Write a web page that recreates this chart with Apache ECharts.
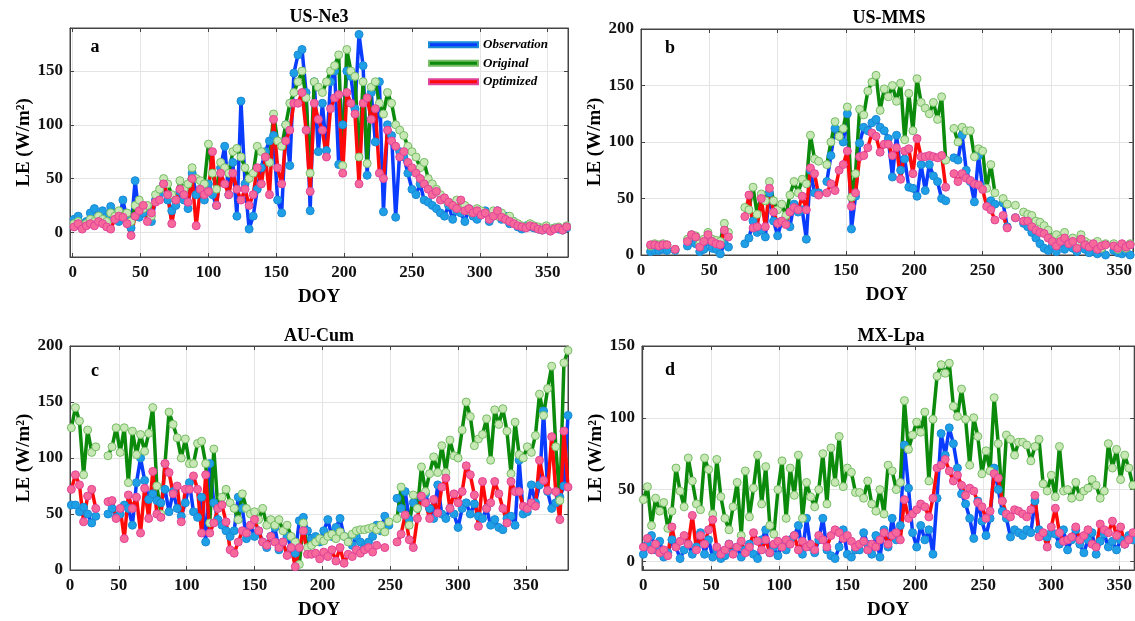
<!DOCTYPE html>
<html>
<head>
<meta charset="utf-8">
<script src="https://cdn.jsdelivr.net/npm/echarts@6/dist/echarts.min.js"></script>
<style>html,body{margin:0;padding:0;background:#fff;}#c{width:1135px;height:621px;}</style>
</head>
<body>
<div id="c"></div>
<script>
const titles = ['US-Ne3', 'US-MMS', 'AU-Cum', 'MX-Lpa'];
const panelLetters = ['a', 'b', 'c', 'd'];
const seriesNames = ['Observation', 'Original', 'Optimized'];

// Panel a: US-Ne3
const daysA = [1,4,7,10,13,16,19,22,25,28,31,34,37,40,43,46,49,52,55,58,61,64,67,70,73,76,79,82,85,88,91,94,97,100,103,106,109,112,115,118,121,124,127,130,133,136,139,142,145,148,151,154,157,160,163,166,169,172,175,178,181,184,187,190,193,196,199,202,205,208,211,214,217,220,223,226,229,232,235,238,241,244,247,250,253,256,259,262,265,268,271,274,277,280,283,286,289,292,295,298,301,304,307,310,313,316,319,322,325,328,331,334,337,340,343,346,349,352,355,358,361,364];
const obsA = [12,15,8,10,18,22,12,20,14,24,
  18,10,30,12,4,48,14,18,22,10,
  30,35,45,30,20,25,38,30,22,55,
  35,40,30,45,35,25,60,80,35,65,
  15,122,45,3,15,40,60,75,85,90,
  30,18,100,62,148,165,170,130,20,140,
  75,120,76,140,150,63,100,150,145,115,
  184,155,53,130,84,140,19,100,90,14,
  75,70,55,40,35,45,30,28,25,22,
  18,15,25,12,20,18,10,22,15,12,
  18,20,10,15,20,12,15,8,10,5,
  3,6,5,4,3,2,3,2,4,3,
  2,4];
const origA = [8,10,5,8,12,10,15,12,10,18,
  15,20,15,18,10,25,30,22,25,15,
  35,40,50,45,35,30,48,40,45,60,
  50,48,45,82,55,40,65,60,55,75,
  78,70,60,50,55,80,75,70,65,110,
  85,80,100,120,130,140,150,125,55,140,
  135,130,140,150,155,165,62,170,150,145,
  70,140,64,135,140,120,110,130,120,100,
  95,90,80,75,70,60,65,50,45,40,
  35,30,28,25,30,22,25,20,18,22,
  20,18,15,20,15,18,12,15,10,8,
  6,5,8,6,5,4,6,3,4,5,
  3,6];
const optA = [5,8,3,6,8,6,10,8,5,3,
  12,15,14,8,-3,15,20,25,10,18,
  28,30,45,35,8,30,40,35,28,50,
  6,40,35,38,75,25,55,45,35,55,
  40,30,40,25,35,60,45,70,35,105,
  60,45,85,95,120,120,130,95,38,120,
  105,95,70,115,125,128,55,130,120,110,
  45,120,125,105,115,55,50,95,85,80,
  70,75,65,60,55,50,45,40,35,38,
  30,32,28,25,22,30,20,22,18,20,
  16,18,12,15,20,14,12,10,8,6,
  5,4,6,5,3,2,4,1,3,4,
  2,5];

// Panel b: US-MMS
const daysB = [1,4,7,10,13,16,19,22,25,28,31,34,37,40,43,46,49,52,55,58,61,64,67,70,73,76,79,82,85,88,91,94,97,100,103,106,109,112,115,118,121,124,127,130,133,136,139,142,145,148,151,154,157,160,163,166,169,172,175,178,181,184,187,190,193,196,199,202,205,208,211,214,217,220,223,226,229,232,235,238,241,244,247,250,253,256,259,262,265,268,271,274,277,280,283,286,289,292,295,298,301,304,307,310,313,316,319,322,325,328,331,334,337,340,343,346,349,352,355,358];
const obsB = [null,null,3,4,4,5,4,null,4,null,
  null,8,12,10,3,5,12,6,5,1,
  10,7,null,null,null,10,15,30,20,22,
  16,55,30,17,30,28,25,45,38,40,
  14,75,55,55,null,65,88,112,105,100,
  125,23,52,99,113,110,117,120,113,110,
  103,69,106,75,85,60,59,52,80,57,
  80,70,65,50,48,null,86,84,106,75,
  65,47,88,60,null,48,45,null,46,25,
  null,33,null,28,25,20,15,10,6,4,
  8,3,10,5,12,6,3,8,5,2,
  7,1,4,0,null,4,2,1,3,0];
const origB = [null,null,8,10,9,10,9,null,5,null,
  null,14,18,17,10,14,20,14,13,12,
  28,20,null,null,null,42,40,60,36,54,
  48,65,48,40,45,35,53,65,55,67,
  63,106,85,83,null,80,100,118,105,112,
  131,51,72,129,124,145,153,159,128,147,
  140,150,136,152,102,143,110,156,135,130,
  125,135,120,140,84,null,112,100,113,110,
  110,87,94,92,59,80,55,null,50,45,
  null,44,null,38,36,35,30,29,26,22,
  15,18,14,20,12,15,10,18,12,10,
  8,12,6,10,null,10,5,8,6,10];
const optB = [null,null,9,9,8,9,9,null,5,null,
  null,12,18,16,7,12,18,12,10,9,
  22,16,null,null,null,34,53,24,25,50,
  25,59,38,28,30,27,38,42,40,52,
  40,77,72,53,null,55,63,57,75,80,
  92,43,55,87,88,95,108,105,91,98,
  98,88,95,67,92,94,72,103,87,87,
  88,87,86,88,60,null,72,65,72,68,
  66,63,62,58,43,40,31,null,35,24,
  null,33,null,30,30,25,22,20,19,15,
  12,8,12,15,10,12,6,14,9,7,
  10,5,8,9,null,8,6,10,7,9];

// Panel c: AU-Cum (axis starts at the position labelled "0")
const daysC = [15,18,21,24,27,30,33,36,39,42,45,48,51,54,57,60,63,66,69,72,75,78,81,84,87,90,93,96,99,102,105,108,111,114,117,120,123,126,129,132,135,138,141,144,147,150,153,156,159,162,165,168,171,174,177,180,183,186,189,192,195,198,201,204,207,210,213,216,219,222,225,228,231,234,237,240,243,246,249,252,255,258,261,264,267,270,273,276,279,282,285,288,291,294,297,300,303,306,309,312,315,318,321,324,327,330,333,336,339,342,345,348,351,354,357,360,363,366,369,372,375,378,381];
const obsC = [58,58,52,56,50,42,48,null,null,50,
  55,47,50,58,55,40,78,100,80,63,
  68,62,60,72,52,70,55,48,60,78,
  52,47,65,25,95,60,45,40,35,30,
  35,65,55,28,40,30,35,25,20,30,
  38,18,25,30,20,15,44,47,35,28,
  30,25,35,45,30,38,46,30,28,22,
  30,25,20,25,30,40,35,48,40,null,
  64,55,70,45,60,55,65,68,55,46,
  76,50,46,55,50,38,55,60,50,59,
  48,46,55,40,45,38,36,46,48,40,
  98,50,52,76,60,76,142,70,55,60,
  65,75,138];
const origC = [127,145,133,85,125,105,110,null,null,102,
  110,127,105,127,78,124,103,121,106,122,
  145,75,50,95,141,130,118,100,117,95,
  95,113,115,95,42,108,55,65,72,60,
  55,45,68,55,50,52,45,55,40,45,
  40,45,35,40,30,25,5,42,20,22,
  25,28,26,30,32,28,34,30,25,32,
  35,36,36,37,38,36,40,34,43,null,
  46,74,49,40,67,55,92,70,86,101,
  87,111,87,116,102,100,125,150,137,111,
  117,121,135,98,143,130,144,124,86,132,
  103,100,110,105,120,157,138,162,182,110,
  62,185,196];
const optC = [72,85,76,43,66,72,55,null,null,61,
  62,46,55,28,67,55,65,33,73,46,
  88,50,47,95,87,68,75,43,72,72,
  84,72,33,85,33,42,55,58,43,18,
  15,25,35,33,40,45,35,25,22,30,
  25,20,25,13,20,3,20,35,14,14,
  15,10,16,12,18,8,20,6,14,12,
  18,15,18,20,16,22,null,20,null,null,
  25,32,49,27,20,46,66,60,46,63,
  51,74,82,55,68,60,70,93,85,67,
  39,79,55,60,79,68,55,42,79,70,
  70,57,55,60,57,98,80,71,119,70,
  45,124,74];

// Panel d: MX-Lpa
const daysD = [0,3,6,9,12,15,18,21,24,27,30,33,36,39,42,45,48,51,54,57,60,63,66,69,72,75,78,81,84,87,90,93,96,99,102,105,108,111,114,117,120,123,126,129,132,135,138,141,144,147,150,153,156,159,162,165,168,171,174,177,180,183,186,189,192,195,198,201,204,207,210,213,216,219,222,225,228,231,234,237,240,243,246,249,252,255,258,261,264,267,270,273,276,279,282,285,288,291,294,297,300,303,306,309,312,315,318,321,324,327,330,333,336,339,342,345,348,351,354,357,360];
const obsD = [5,12,18,8,14,3,6,15,10,2,
  8,12,5,10,20,5,15,3,8,2,
  4,12,6,10,3,8,12,5,2,15,
  22,6,10,4,12,8,15,18,25,5,
  30,10,6,15,30,8,4,2,10,22,
  5,3,8,8,20,12,5,18,3,22,
  10,30,15,25,81,51,20,10,25,15,
  22,5,44,89,74,93,82,65,47,40,
  30,16,42,28,18,30,65,50,35,30,
  17,22,20,18,22,20,42,22,18,17,
  20,19,12,22,8,15,22,12,6,15,
  20,5,14,19,10,14,8,15,12,18,
  15];
const origD = [43,52,25,44,35,41,23,35,65,49,
  38,72,56,40,36,72,64,33,71,45,
  30,22,38,55,18,63,31,51,74,40,
  66,25,19,50,70,30,65,46,74,30,
  55,45,38,50,75,40,79,55,87,52,
  65,62,48,48,44,56,40,35,50,33,
  67,63,50,55,112,78,88,97,90,104,
  56,99,129,137,131,138,108,101,120,99,
  67,100,87,61,77,63,114,82,42,88,
  85,74,83,83,81,70,80,85,54,49,
  60,45,80,49,50,44,55,45,49,51,
  57,53,44,49,82,65,78,57,74,65,
  53];
const optD = [10,16,8,12,6,8,4,24,10,14,
  18,12,32,8,18,12,22,29,10,5,
  8,12,5,10,14,6,10,20,14,8,
  15,6,12,14,10,15,12,18,8,14,
  10,12,8,18,15,10,18,22,20,16,
  18,14,10,12,14,8,12,10,15,20,
  12,18,20,15,43,30,33,36,40,38,
  31,44,65,67,71,63,56,60,53,46,
  51,49,41,38,30,35,61,58,42,33,
  31,36,35,33,31,36,46,17,20,10,
  24,37,20,14,15,17,24,15,18,22,
  12,10,26,22,20,28,18,24,12,15,
  20];

// ---------------- STYLE ----------------
const FONT = '"Liberation Serif", "DejaVu Serif", "Times New Roman", serif';
const C = {
  obs:  {line: '#0a3cff', fill: '#1e9fe6', border: '#1a8ad6'},
  orig: {line: '#0b8a0b', fill: '#c7e8b5', border: '#76bd65'},
  opt:  {line: '#ff0a0a', fill: '#f7689b', border: '#e0449a'}
};

const grids = [
  {left: 70,  top: 28,  width: 498, height: 229},
  {left: 641, top: 29,  width: 494, height: 226},
  {left: 70,  top: 346, width: 498, height: 226},
  {left: 642, top: 346, width: 493, height: 227}
];
const xRanges = [[-2, 365], [0, 360], [14, 381], [-1, 361]];
const yRanges = [[-23, 190], [0, 200], [0, 200], [-6, 150]];
const ySplit = [4, 4, 4, 3];

function xAxis(i) {
  const r = xRanges[i];
  return {
    type: 'value', gridIndex: i, min: r[0], max: r[1], splitNumber: 7,
    name: 'DOY', nameLocation: 'middle', nameGap: 31,
    nameTextStyle: {fontFamily: FONT, fontWeight: 'bold', fontSize: 19, color: '#000'},
    axisLine: {show: true, onZero: false, lineStyle: {color: '#444'}},
    axisTick: {show: true, inside: true, length: 4, lineStyle: {color: '#444'}},
    axisLabel: {
      showMinLabel: i === 1 || i === 2, showMaxLabel: false, margin: 7,
      fontFamily: FONT, fontWeight: 'bold', fontSize: 17, color: '#111',
      formatter: function (v) { return (i === 2 && v === 14) ? '0' : String(v); }
    },
    splitLine: {show: true, lineStyle: {color: '#e4e4e4'}}
  };
}
function yAxis(i) {
  const r = yRanges[i];
  return {
    type: 'value', gridIndex: i, min: r[0], max: r[1], splitNumber: ySplit[i],
    name: 'LE (W/m²)', nameLocation: 'middle', nameGap: 36,
    nameTextStyle: {fontFamily: FONT, fontWeight: 'bold', fontSize: 19, color: '#000'},
    axisLine: {show: true, onZero: false, lineStyle: {color: '#444'}},
    axisTick: {show: true, inside: true, length: 4, lineStyle: {color: '#444'}},
    axisLabel: {
      showMinLabel: r[0] === 0, showMaxLabel: r[1] % 50 === 0, margin: 7,
      fontFamily: FONT, fontWeight: 'bold', fontSize: 17, color: '#111'
    },
    splitLine: {show: true, lineStyle: {color: '#e4e4e4'}}
  };
}
// mirrored tick-only axes on the top and right edges (box style)
function xAxisTop(i) {
  const r = xRanges[i];
  return {type: 'value', gridIndex: i, position: 'top', min: r[0], max: r[1], splitNumber: 7,
    axisLine: {show: true, onZero: false, lineStyle: {color: '#444'}},
    axisTick: {show: true, inside: true, length: 4, lineStyle: {color: '#444'}},
    axisLabel: {show: false}, splitLine: {show: false}};
}
function yAxisRight(i) {
  const r = yRanges[i];
  return {type: 'value', gridIndex: i, position: 'right', min: r[0], max: r[1], splitNumber: ySplit[i],
    axisLine: {show: true, onZero: false, lineStyle: {color: '#444'}},
    axisTick: {show: true, inside: true, length: 4, lineStyle: {color: '#444'}},
    axisLabel: {show: false}, splitLine: {show: false}};
}
function mk(name, i, days, vals, c) {
  return {
    name: name, type: 'line', xAxisIndex: i, yAxisIndex: i,
    data: days.map(function (d, k) { return [d, vals[k]]; }),
    symbol: 'circle', symbolSize: 8, showSymbol: true, connectNulls: false,
    lineStyle: {color: c.line, width: 3.5},
    itemStyle: {color: c.fill, borderColor: c.border, borderWidth: 1},
    emphasis: {disabled: true}, silent: true
  };
}
const panels = [
  [daysA, obsA, origA, optA],
  [daysB, obsB, origB, optB],
  [daysC, obsC, origC, optC],
  [daysD, obsD, origD, optD]
];
const series = [];
panels.forEach(function (p, i) {
  series.push(mk(seriesNames[0], i, p[0], p[1], C.obs));
  series.push(mk(seriesNames[1], i, p[0], p[2], C.orig));
  series.push(mk(seriesNames[2], i, p[0], p[3], C.opt));
});

const titlePos = [[319, 17], [889, 18], [319, 336], [891, 336]];
const letterPos = [[95, 47], [670, 48], [95, 371], [670, 370]];
const graphic = [];
titles.forEach(function (t, i) {
  graphic.push({type: 'text', x: titlePos[i][0], y: titlePos[i][1], z: 10,
    style: {text: t, font: 'bold 18px ' + FONT, fill: '#000', align: 'center', verticalAlign: 'middle'}});
});
panelLetters.forEach(function (t, i) {
  graphic.push({type: 'text', x: letterPos[i][0], y: letterPos[i][1], z: 10,
    style: {text: t, font: 'bold 18px ' + FONT, fill: '#000', align: 'center', verticalAlign: 'middle'}});
});

const chart = echarts.init(document.getElementById('c'), null, {renderer: 'canvas'});
chart.setOption({
  animation: false,
  backgroundColor: '#fff',
  grid: grids.map(function (g) { return Object.assign({show: true, borderColor: '#444', borderWidth: 1, backgroundColor: 'transparent', containLabel: false}, g); }),
  xAxis: [0, 1, 2, 3].map(xAxis).concat([0, 1, 2, 3].map(xAxisTop)),
  yAxis: [0, 1, 2, 3].map(yAxis).concat([0, 1, 2, 3].map(yAxisRight)),
  legend: {
    show: true, selectedMode: false, orient: 'vertical', left: 428, top: 37,
    itemWidth: 49, itemHeight: 5, itemGap: 3, icon: 'rect', padding: 0,
    textStyle: {fontFamily: FONT, fontStyle: 'italic', fontWeight: 'bold', fontSize: 13, color: '#000', lineHeight: 15.5},
    data: [
      {name: seriesNames[0], itemStyle: {color: C.obs.line}},
      {name: seriesNames[1], itemStyle: {color: C.orig.line}},
      {name: seriesNames[2], itemStyle: {color: C.opt.line}}
    ]
  },
  graphic: graphic,
  series: series
});
</script>
</body>
</html>
